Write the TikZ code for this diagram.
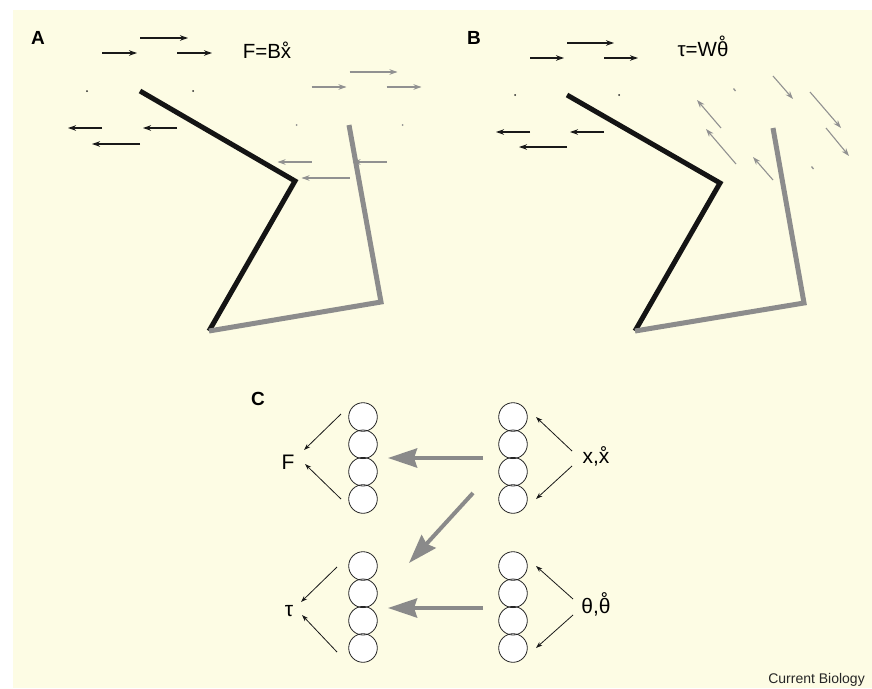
\documentclass[tikz,border=0pt]{standalone}
\usepackage{fontspec}
\setmainfont{Liberation Sans}
\usetikzlibrary{arrows.meta}
\definecolor{bgcream}{RGB}{253,252,228}
\definecolor{armgray}{RGB}{140,140,140}
\definecolor{arrgray}{RGB}{145,145,145}
\definecolor{biggray}{RGB}{138,138,138}
\newcommand\ringon[1]{{\accent"02DA #1}}
\tikzset{
  tarr/.style={line width=1.1pt,-{Stealth[length=8pt,width=5.5pt,inset=2.5pt]}},
  carr/.style={line width=0.8pt,-{Stealth[length=6.5pt,width=4.5pt,inset=2pt]}},
  blk/.style={draw=black!90},
  gry/.style={draw=arrgray},
  armline/.style={line width=5pt},
  bigarr/.style={draw=biggray,line width=4pt,-{Stealth[length=29pt,width=19pt,inset=3pt]}},
  nfill/.style={circle,fill=white,minimum size=28.6pt,inner sep=0pt},
  nline/.style={circle,draw=black!85,line width=0.8pt,minimum size=28.6pt,inner sep=0pt},
  plabel/.style={font=\bfseries\fontsize{19}{19}\selectfont,anchor=base west,inner sep=0pt},
  eqlabel/.style={font=\fontsize{20.5}{20.5}\selectfont,anchor=base,inner sep=0pt},
  clabel/.style={font=\fontsize{21}{21}\selectfont,anchor=base,inner sep=0pt},
  dotmark/.style={fill=black!85,circle,inner sep=0pt,minimum size=2pt},
}
\begin{document}
\begin{tikzpicture}[x=1pt,y=-1pt]
\useasboundingbox (0,0) rectangle (872,688);
\fill[bgcream] (13,10) rectangle (872,688);

% ---------------- Panel A ----------------
\node[plabel] (labA) at (31,44) {A};
\node[eqlabel] (eqA) at (267,58) {F=B\ringon{x}};
% black field
\draw[tarr,blk] (140,38) -- (188,38);
\draw[tarr,blk] (102,53) -- (137,53);
\draw[tarr,blk] (177,53) -- (212,53);
\node[dotmark] (dA1) at (87,91) {};
\node[dotmark] (dA2) at (193,91) {};
\draw[tarr,blk] (102,128) -- (68,128);
\draw[tarr,blk] (177,128) -- (143,128);
\draw[tarr,blk] (140,144) -- (92,144);
% gray field (shifted copy)
\begin{scope}[shift={(209.5,34)}]
\draw[tarr,gry] (140,38) -- (188,38);
\draw[tarr,gry] (102,53) -- (137,53);
\draw[tarr,gry] (177,53) -- (212,53);
\node[dotmark,fill=arrgray] (dA3) at (87,91) {};
\node[dotmark,fill=arrgray] (dA4) at (193,91) {};
\draw[tarr,gry] (102,128) -- (68,128);
\draw[tarr,gry] (177,128) -- (143,128);
\draw[tarr,gry] (140,144) -- (92,144);
\end{scope}
% arms
\coordinate (aS) at (140,91);
\coordinate (aE) at (295,181);
\coordinate (aH) at (209,331);
\coordinate (aE2) at (381,302);
\coordinate (aT2) at (349,125);
\draw[armline,draw=black!92,line join=miter] (aS) -- (aE) -- (aH);
\draw[armline,draw=armgray,line join=miter] (aH) -- (aE2) -- (aT2);

% ---------------- Panel B ----------------
\node[plabel] (labB) at (467,44) {B};
\node[eqlabel] (eqB) at (703,56) {τ=W\ringon{θ}};
\draw[tarr,blk] (567,43) -- (614,43);
\draw[tarr,blk] (530,58) -- (564,58);
\draw[tarr,blk] (604,58) -- (638,58);
\node[dotmark] (dB1) at (515,95) {};
\node[dotmark] (dB2) at (619,95) {};
\draw[tarr,blk] (530,132) -- (496,132);
\draw[tarr,blk] (604,132) -- (570,132);
\draw[tarr,blk] (567,147) -- (519,147);
% gray rotational field
\draw[tarr,gry] (721,128) -- (697,100);
\draw[tarr,gry] (736,164) -- (706,129);
\draw[tarr,gry] (773,180) -- (753,157);
\draw[tarr,gry] (773,76) -- (793,99);
\draw[tarr,gry] (810,92) -- (841,128);
\draw[tarr,gry] (826,128) -- (849,156);
\draw[gry,line width=1.3pt] (733.5,88.5) -- (735.5,91);
\draw[gry,line width=1.3pt] (811.5,166.5) -- (813.5,169);
% arms
\coordinate (bS) at (567,95);
\coordinate (bE) at (720,183);
\coordinate (bH) at (635,331);
\coordinate (bE2) at (804,303);
\coordinate (bT2) at (773,128);
\draw[armline,draw=black!92,line join=miter] (bS) -- (bE) -- (bH);
\draw[armline,draw=armgray,line join=miter] (bH) -- (bE2) -- (bT2);

% ---------------- Panel C ----------------
\node[plabel] (labC) at (251,405) {C};
% neuron columns
\foreach \nm/\cx/\cy in {L1/363/417,L2/363/444.3,L3/363/471.7,L4/363/499,
                         R1/513/417,R2/513/444.3,R3/513/471.7,R4/513/499,
                         M1/363/566,M2/363/593.3,M3/363/620.7,M4/363/648,
                         S1/513/566,S2/513/593.3,S3/513/620.7,S4/513/648}{
  \node[nfill] (\nm) at (\cx,\cy) {};
}
\foreach \nm in {L1,L2,L3,L4,R1,R2,R3,R4,M1,M2,M3,M4,S1,S2,S3,S4}{
  \node[nline] at (\nm) {};
}
% labels
\node[clabel] (Fout) at (288,469) {F};
\node[clabel] (tauout) at (289,616) {τ};
\node[clabel] (xin) at (596,463) {x,\ringon{x}};
\node[clabel] (thin) at (596,613) {θ,\ringon{θ}};
% thin arrows
\coordinate (fa1) at (341,414); \coordinate (fb1) at (304,450);
\coordinate (fa2) at (341,499); \coordinate (fb2) at (305,464);
\draw[carr,blk] (fa1) -- (fb1);
\draw[carr,blk] (fa2) -- (fb2);
\coordinate (ta1) at (337,567); \coordinate (tb1) at (301,602);
\coordinate (ta2) at (337,652); \coordinate (tb2) at (302,615);
\draw[carr,blk] (ta1) -- (tb1);
\draw[carr,blk] (ta2) -- (tb2);
\coordinate (xa1) at (572,451); \coordinate (xb1) at (536,417);
\coordinate (xa2) at (572,466); \coordinate (xb2) at (536,499);
\draw[carr,blk] (xa1) -- (xb1);
\draw[carr,blk] (xa2) -- (xb2);
\coordinate (ha1) at (573,599); \coordinate (hb1) at (536,566);
\coordinate (ha2) at (573,615); \coordinate (hb2) at (536,648);
\draw[carr,blk] (ha1) -- (hb1);
\draw[carr,blk] (ha2) -- (hb2);
% big gray arrows
\coordinate (g1s) at (483,458); \coordinate (g1e) at (388,458);
\coordinate (g2s) at (483,608); \coordinate (g2e) at (388,608);
\coordinate (g3s) at (473,493); \coordinate (g3e) at (409,563);
\draw[bigarr] (g1s) -- (g1e);
\draw[bigarr] (g2s) -- (g2e);
\draw[bigarr] (g3s) -- (g3e);

% credit
\node[font=\fontsize{14}{14}\selectfont,anchor=base east,inner sep=0pt,text=black!85] (credit) at (865,683) {Current Biology};
\end{tikzpicture}
\end{document}
